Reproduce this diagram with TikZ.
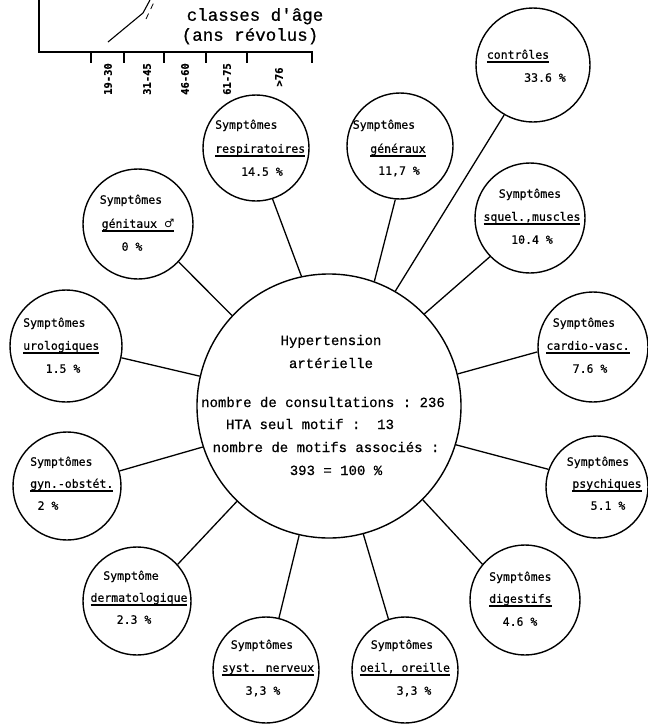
\documentclass[tikz,border=0pt]{standalone}
\usepackage{fontspec}
\setmonofont{Liberation Mono}[FakeBold=0.6]
\newfontfamily\satfont{DejaVu Sans Mono}[FakeBold=0.5]
\newfontfamily\symfont{DejaVu Sans}
\usetikzlibrary{calc}
\newsavebox\ulbox
\newcommand\ulx[1]{\sbox\ulbox{#1}\rlap{\rule[-3.8pt]{\wd\ulbox}{1.3pt}}\usebox\ulbox}
\begin{document}
\begin{tikzpicture}[x=1pt,y=-1pt,
  sat/.style={circle,draw,line width=1.4pt,inner sep=0pt,minimum size=#1},
  link/.style={line width=1.3pt},
  lbl/.style={font=\satfont\fontsize{11.5}{13}\selectfont,inner sep=0pt,text height=8pt,text depth=2.5pt},
  ctext/.style={font=\ttfamily\fontsize{14}{16}\selectfont,inner sep=0pt,text height=9pt,text depth=3pt},
  htext/.style={font=\ttfamily\fontsize{17.5}{19}\selectfont,inner sep=0pt,text height=11pt,text depth=3.5pt},
  ticklbl/.style={font=\satfont\bfseries\fontsize{10.5}{12}\selectfont,inner sep=0pt,rotate=90},
  axis/.style={line width=1.4pt}]
\useasboundingbox (0,0) rectangle (648,724);

% fragment of chart at top
\coordinate (ya) at (39,0);
\coordinate (o) at (39,52);
\coordinate (xa) at (313,52);
\draw[axis] (ya) -- (o) -- (xa);
\foreach \x in {91,124,164,206,247,312} \draw[axis] (\x,52) -- (\x,63);
\draw[line width=1.1pt] (108,42) -- (143,13) -- (150,0);
\draw[line width=0.8pt,dash pattern=on 6pt off 5pt] (146,19) -- (155,0);
\node[ticklbl] (t1) at (108,79) {19-30};
\node[ticklbl] (t2) at (147,79) {31-45};
\node[ticklbl] (t3) at (185,79) {46-60};
\node[ticklbl] (t4) at (227,79) {61-75};
\node[ticklbl] (t5) at (279,77) {>76};
\node[htext] (ca) at (255,17) {classes d'âge};
\node[htext] (cb) at (250,37) {(ans révolus)};

% central circle
\node[sat=264] (hta) at (329,406) {};
\node[ctext] (h1) at (331,342) {Hypertension};
\node[ctext] (h2) at (331,365) {artérielle};
\node[ctext] (h3) at (323,404) {nombre de consultations : 236};
\node[ctext] (h4) at (310,426) {HTA seul motif :~~13};
\node[ctext] (h5) at (326,449) {nombre de motifs associés :};
\node[ctext] (h6) at (336,472) {393 = 100 \%};

% satellites
\node[sat=114] (ctrl) at (533,65) {};
\node[lbl] (ctrl1) at (518,56) {\ulx{contrôles}};
\node[lbl] (ctrl2) at (545,79) {33.6 \%};

\node[sat=106] (resp) at (256,148) {};
\node[lbl,anchor=west] (resp1) at (215,126) {Symptômes};
\node[lbl,anchor=west] (resp2) at (215,150) {\ulx{respiratoires}};
\node[lbl] (resp3) at (262,173) {14.5 \%};

\node[sat=106] (gen) at (400,146) {};
\node[lbl] (gen1) at (384,126) {Symptômes};
\node[lbl] (gen2) at (398,150) {\ulx{généraux}};
\node[lbl] (gen3) at (399,172) {11,7 \%};

\node[sat=110] (geni) at (138,224) {};
\node[lbl] (geni1) at (131,201) {Symptômes};
\node[lbl] (geni2) at (138,225) {\ulx{génitaux {\symfont ♂}}};
\node[lbl] (geni3) at (132,248) {0 \%};

\node[sat=110] (squel) at (530,218) {};
\node[lbl] (squel1) at (530,195) {Symptômes};
\node[lbl] (squel2) at (532,218) {\ulx{squel.,muscles}};
\node[lbl] (squel3) at (532,241) {10.4 \%};

\node[sat=112] (uro) at (66,346) {};
\node[lbl,anchor=west] (uro1) at (23,324) {Symptômes};
\node[lbl,anchor=west] (uro2) at (23,347) {\ulx{urologiques}};
\node[lbl] (uro3) at (63,370) {1.5 \%};

\node[sat=110] (cardio) at (593,347) {};
\node[lbl] (cardio1) at (584,324) {Symptômes};
\node[lbl] (cardio2) at (588,347) {\ulx{cardio-vasc.}};
\node[lbl] (cardio3) at (590,370) {7.6 \%};

\node[sat=108] (gyn) at (67,486) {};
\node[lbl,anchor=west] (gyn1) at (30,463) {Symptômes};
\node[lbl,anchor=west] (gyn2) at (30,485) {\ulx{gyn.-obstét.}};
\node[lbl] (gyn3) at (48,507) {2 \%};

\node[sat=102] (psy) at (597,487) {};
\node[lbl] (psy1) at (598,463) {Symptômes};
\node[lbl] (psy2) at (607,485) {\ulx{psychiques}};
\node[lbl] (psy3) at (608,507) {5.1 \%};

\node[sat=108] (derm) at (137,601) {};
\node[lbl] (derm1) at (131,577) {Symptôme};
\node[lbl] (derm2) at (139,599) {\ulx{dermatologique}};
\node[lbl] (derm3) at (134,621) {2.3 \%};

\node[sat=110] (dig) at (525,600) {};
\node[lbl,anchor=west] (dig1) at (489,578) {Symptômes};
\node[lbl,anchor=west] (dig2) at (489,600) {\ulx{digestifs}};
\node[lbl] (dig3) at (520,623) {4.6 \%};

\node[sat=106] (syst) at (266,670) {};
\node[lbl] (syst1) at (262,646) {Symptômes};
\node[lbl] (syst2) at (268,669) {\ulx{syst. nerveux}};
\node[lbl] (syst3) at (263,692) {3,3 \%};

\node[sat=106] (oeil) at (405,670) {};
\node[lbl] (oeil1) at (402,646) {Symptômes};
\node[lbl] (oeil2) at (405,669) {\ulx{oeil, oreille}};
\node[lbl] (oeil3) at (414,692) {3,3 \%};

% connectors
\draw[link] (hta.60) -- (ctrl.240);
\draw[link] (hta.102) -- (resp.288);
\draw[link] (hta.70) -- (gen.265);
\draw[link] (hta.137) -- (geni.317);
\draw[link] (hta.44) -- (squel.224);
\draw[link] (hta.167) -- (uro.348);
\draw[link] (hta.14.5) -- (cardio.185);
\draw[link] (hta.198) -- (gyn.16);
\draw[link] (hta.-17) -- (psy.160);
\draw[link] (hta.226.5) -- (derm.42);
\draw[link] (hta.-45) -- (dig.140);
\draw[link] (hta.257) -- (syst.76);
\draw[link] (hta.285) -- (oeil.108);
\end{tikzpicture}
\end{document}
